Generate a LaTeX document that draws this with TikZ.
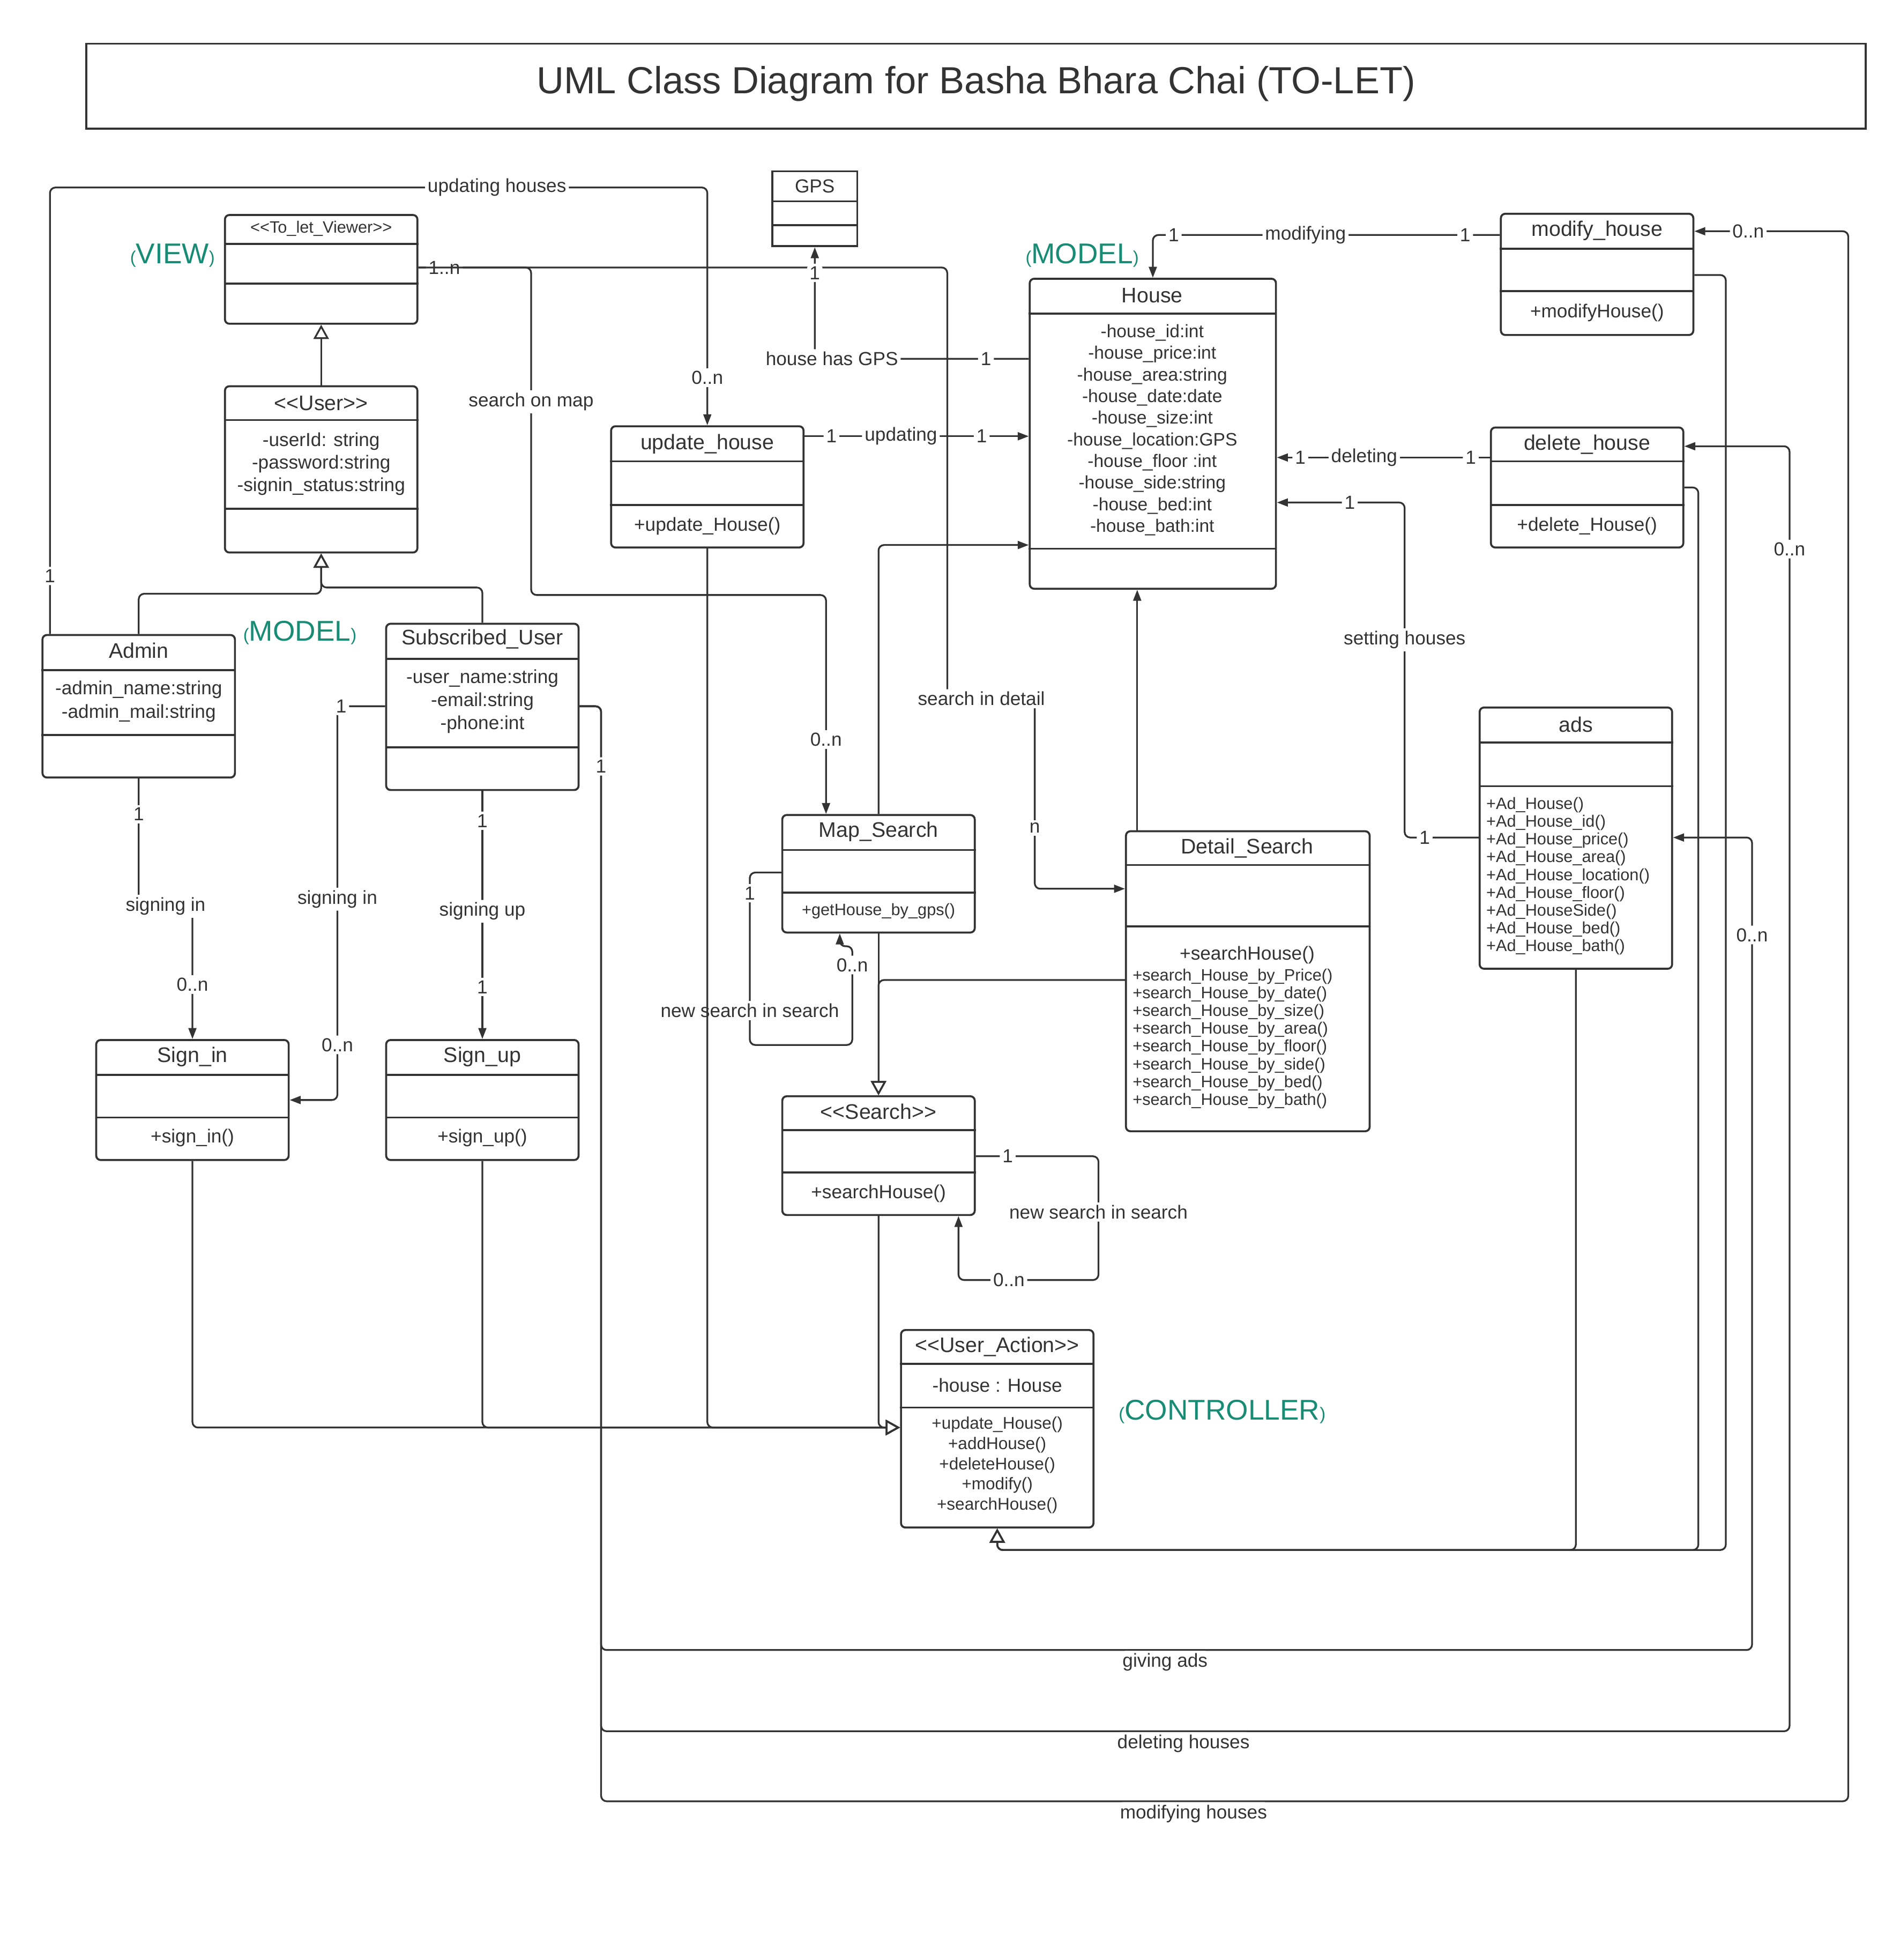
\documentclass[tikz,border=0pt]{standalone}
\usepackage{fontspec}
\setmainfont{Liberation Sans}
\usepackage{tikz}
\usetikzlibrary{arrows.meta, positioning, fit, calc}
\definecolor{ink}{RGB}{51,51,51}
\definecolor{layergreen}{RGB}{24,139,117}
\newcommand{\lgl}{<\kern0pt<}
\newcommand{\rgl}{>\kern0pt>}
\newcommand{\pbr}[1]{{\fontsize{8}{8}\selectfont#1}}

\begin{document}
\begin{tikzpicture}[
  x=0.02cm, y=-0.02cm,
  cls/.style={draw=ink, line width=0.9pt, rounded corners=2pt, inner sep=0pt},
  sqbox/.style={draw=ink, line width=0.9pt, inner sep=0pt},
  divider/.style={draw=ink, line width=0.9pt},
  clshead/.style={font=\fontsize{9.6}{11}\selectfont, text=ink, inner sep=0pt, yshift=-0.8pt},
  clsattr/.style={font=\fontsize{8.6}{10.4}\selectfont, align=center, text=ink, inner sep=0pt, yshift=-0.6pt},
  clsops/.style={font=\fontsize{7.5}{8.1}\selectfont, align=left, text=ink, inner sep=0pt, yshift=-0.5pt},
  lbl/.style={font=\fontsize{8.6}{10}\selectfont, fill=white, inner sep=1.2pt, text=ink},
  layer/.style={font=\fontsize{13}{15}\selectfont, text=layergreen, yshift=-0.8pt},
  conn/.style={draw=ink, line width=0.8pt, rounded corners=2.5pt},
  arrow/.style={conn, -{Triangle[length=5pt, width=3.6pt]}},
  genarrow/.style={conn, -{Triangle[open, length=6.5pt, width=7pt]}},
]
\path[use as bounding box, fill=white] (0,0) rectangle (1520,1568);

% Title
\node[sqbox, fit={(69,35) (1493,103)}] (frame) {};
\node[font=\fontsize{17.2}{20}\selectfont, text=ink, yshift=-1.2pt] (title) at (781,65) {UML Class Diagram for Basha Bhara Chai (TO-LET)};

% Layer tags
\node[layer] (viewtag) at (138,203) {\pbr{(}VIEW\pbr{)}};
\node[layer] (modeltag1) at (240,505) {\pbr{(}MODEL\pbr{)}};
\node[layer] (modeltag2) at (866,203) {\pbr{(}MODEL\pbr{)}};
\node[layer] (ctrltag) at (978,1128) {\pbr{(}CONTROLLER\pbr{)}};

% To_let_Viewer
\node[cls, fit={(180,172) (334,259)}] (viewer) {};
\draw[divider] (viewer.west |- 0,195) -- (viewer.east |- 0,195) (viewer.west |- 0,227) -- (viewer.east |- 0,227);
\node[clsops] (viewer-t) at (257,182) {\lgl To\_let\_Viewer\rgl};

% User
\node[cls, fit={(180,309) (334,442)}] (user) {};
\draw[divider] (user.west |- 0,336) -- (user.east |- 0,336) (user.west |- 0,407) -- (user.east |- 0,407);
\node[clshead] (user-t) at (257,321) {\lgl User\rgl};
\node[clsattr, font=\fontsize{8.6}{10.3}\selectfont] (user-a) at (257,370) {-userId: string\\-password:string\\-signin\_status:string};

% Admin
\node[cls, fit={(34,508) (188,622)}] (admin) {};
\draw[divider] (admin.west |- 0,536) -- (admin.east |- 0,536) (admin.west |- 0,588) -- (admin.east |- 0,588);
\node[clshead] (admin-t) at (111,519) {Admin};
\node[clsattr, font=\fontsize{8.6}{10.8}\selectfont] (admin-a) at (111,560) {-admin\_name:string\\-admin\_mail:string};

% Subscribed_User
\node[cls, fit={(309,499) (463,632)}] (sub) {};
\draw[divider] (sub.west |- 0,527) -- (sub.east |- 0,527) (sub.west |- 0,598) -- (sub.east |- 0,598);
\node[clshead] (sub-t) at (386,510) {Subscribed\_User};
\node[clsattr, font=\fontsize{8.6}{10.5}\selectfont] (sub-a) at (386,560) {-user\_name:string\\-email:string\\-phone:int};

% Sign_in, Sign_up
\node[cls, fit={(77,832) (231,928)}] (signin) {};
\draw[divider] (signin.west |- 0,860) -- (signin.east |- 0,860) (signin.west |- 0,894) -- (signin.east |- 0,894);
\node[clshead] (signin-t) at (154,844) {Sign\_in};
\node[clsattr] (signin-o) at (154,909) {+sign\_in()};

\node[cls, fit={(309,832) (463,928)}] (signup) {};
\draw[divider] (signup.west |- 0,860) -- (signup.east |- 0,860) (signup.west |- 0,894) -- (signup.east |- 0,894);
\node[clshead] (signup-t) at (386,844) {Sign\_up};
\node[clsattr] (signup-o) at (386,909) {+sign\_up()};

% GPS
\node[sqbox, fit={(618,137) (686,197)}] (gps) {};
\draw[divider] (gps.west |- 0,161) -- (gps.east |- 0,161) (gps.west |- 0,180) -- (gps.east |- 0,180);
\node[clsattr] (gps-t) at (652,148) {GPS};

% update_house
\node[cls, fit={(489,341) (643,438)}] (update) {};
\draw[divider] (update.west |- 0,369) -- (update.east |- 0,369) (update.west |- 0,404) -- (update.east |- 0,404);
\node[clshead] (update-t) at (566,354) {update\_house};
\node[clsattr] (update-o) at (566,420) {+update\_House()};

% House
\node[cls, fit={(824,223) (1021,471)}] (house) {};
\draw[divider] (house.west |- 0,251) -- (house.east |- 0,251) (house.west |- 0,439) -- (house.east |- 0,439);
\node[clshead] (house-t) at (922,235) {House};
\node[clsattr, font=\fontsize{8.2}{9.84}\selectfont] (house-a) at (922,343) {-house\_id:int\\-house\_price:int\\-house\_area:string\\-house\_date:date\\-house\_size:int\\-house\_location:GPS\\-house\_floor :int\\-house\_side:string\\-house\_bed:int\\-house\_bath:int};

% modify_house
\node[cls, fit={(1201,171) (1355,268)}] (modify) {};
\draw[divider] (modify.west |- 0,199) -- (modify.east |- 0,199) (modify.west |- 0,233) -- (modify.east |- 0,233);
\node[clshead] (modify-t) at (1278,183) {modify\_house};
\node[clsattr] (modify-o) at (1278,249) {+modifyHouse()};

% delete_house
\node[cls, fit={(1193,342) (1347,438)}] (delete) {};
\draw[divider] (delete.west |- 0,369) -- (delete.east |- 0,369) (delete.west |- 0,404) -- (delete.east |- 0,404);
\node[clshead] (delete-t) at (1270,354) {delete\_house};
\node[clsattr] (delete-o) at (1270,420) {+delete\_House()};

% ads
\node[cls, fit={(1184,566) (1338,775)}] (ads) {};
\draw[divider] (ads.west |- 0,594) -- (ads.east |- 0,594) (ads.west |- 0,629) -- (ads.east |- 0,629);
\node[clshead] (ads-t) at (1261,578) {ads};
\node[clsops, anchor=west] (ads-o) at (1189,700) {+Ad\_House()\\+Ad\_House\_id()\\+Ad\_House\_price()\\+Ad\_House\_area()\\+Ad\_House\_location()\\+Ad\_House\_floor()\\+Ad\_HouseSide()\\+Ad\_House\_bed()\\+Ad\_House\_bath()};

% Map_Search
\node[cls, fit={(626,652) (780,746)}] (map) {};
\draw[divider] (map.west |- 0,680) -- (map.east |- 0,680) (map.west |- 0,714) -- (map.east |- 0,714);
\node[clshead] (map-t) at (703,664) {Map\_Search};
\node[clsops] (map-o) at (703,728) {+getHouse\_by\_gps()};

% Detail_Search
\node[cls, fit={(901,665) (1096,905)}] (detail) {};
\draw[divider] (detail.west |- 0,692) -- (detail.east |- 0,692) (detail.west |- 0,741) -- (detail.east |- 0,741);
\node[clshead] (detail-t) at (998,677) {Detail\_Search};
\node[clsattr] (detail-s) at (998,763) {+searchHouse()};
\node[clsops, anchor=west] (detail-o) at (906,830) {+search\_House\_by\_Price()\\+search\_House\_by\_date()\\+search\_House\_by\_size()\\+search\_House\_by\_area()\\+search\_House\_by\_floor()\\+search\_House\_by\_side()\\+search\_House\_by\_bed()\\+search\_House\_by\_bath()};

% Search
\node[cls, fit={(626,877) (780,972)}] (search) {};
\draw[divider] (search.west |- 0,904) -- (search.east |- 0,904) (search.west |- 0,938) -- (search.east |- 0,938);
\node[clshead] (search-t) at (703,888) {\lgl Search\rgl};
\node[clsattr] (search-o) at (703,954) {+searchHouse()};

% User_Action
\node[cls, fit={(721,1064) (875,1222)}] (action) {};
\draw[divider] (action.west |- 0,1091) -- (action.east |- 0,1091) (action.west |- 0,1126) -- (action.east |- 0,1126);
\node[clshead] (action-t) at (798,1076) {\lgl User\_Action\rgl};
\node[clsattr] (action-a) at (798,1107) {-house : House};
\node[clsattr, font=\fontsize{7.7}{9.2}\selectfont] (action-o) at (798,1171) {+update\_House()\\+addHouse()\\+deleteHouse()\\+modify()\\+searchHouse()};

% Inheritance
\draw[genarrow] (user.north) -- (viewer.south);
\draw[genarrow] (admin.north) |- (user.south |- 0,475) -- (user.south);
\draw[genarrow] (sub.north) |- (user.south |- 0,470) -- (user.south);

% Viewer searches
\draw[arrow] (viewer.east |- 0,214) -- node[lbl, pos=0.23] (m-view) {1..n} (425,214) -- node[lbl, pos=0.41] (l-map) {search on map} (425,476) -- (661,476) -- node[lbl, pos=0.66] (m-map) {0..n} (map.north -| 661,0);
\draw[arrow] (viewer.east |- 0,214) -- (758,214) -- (758,559) -- node[lbl, pos=0.39] (l-det) {search in detail} (828,559) -- node[lbl, pos=0.68] (m-det) {n} (828,711) -- (detail.west |- 0,711);

% Admin updating
\draw[arrow] (admin.north -| 40,0) -- node[lbl, pos=0.13] (m-adm) {1} (40,150) -- node[lbl, pos=0.68] (l-upd) {updating houses} (update.north |- 0,150) -- node[lbl, pos=0.8] (m-upd) {0..n} (update.north);

% House associations
\draw[arrow] (house.west |- 0,287) -- node[lbl, pos=0.2] (m-hg) {1} node[lbl, pos=0.92] (l-gps) {house has GPS} (652,287) -- node[lbl, pos=0.77] (m-gps) {1} (gps.south);
\draw[arrow] (update.east |- 0,349) -- node[lbl, pos=0.12] (m-u1) {1} node[lbl, pos=0.43] (l-updt) {updating} node[lbl, pos=0.79] (m-u2) {1} (house.west |- 0,349);
\draw[arrow] (modify.west |- 0,188) -- node[lbl, pos=0.1] (m-mo1) {1} node[lbl, pos=0.56] (l-mod) {modifying} node[lbl, pos=0.94] (m-mo2) {1} (house.north |- 0,188) -- (house.north);
\draw[arrow] (delete.west |- 0,366) -- node[lbl, pos=0.09] (m-de1) {1} node[lbl, pos=0.59] (l-del) {deleting} node[lbl, pos=0.89] (m-de2) {1} (house.east |- 0,366);
\draw[arrow] (ads.west |- 0,670) -- node[lbl, pos=0.73] (m-ad1) {1} (1124,670) -- node[lbl, pos=0.59] (l-set) {setting houses} (1124,402) -- node[lbl, pos=0.43] (m-ad2) {1} (house.east |- 0,402);
\draw[arrow] (map.north) -- (map.north |- 0,436) -- (house.west |- 0,436);
\draw[arrow] (detail.north -| 910,0) -- (house.south -| 910,0);

% Search hierarchy
\draw[genarrow] (map.south) -- (search.north);
\draw[genarrow] (detail.west |- 0,784) -- (search.north |- 0,784) -- (search.north);

% Self loops
\draw[arrow] (map.west |- 0,698) -- (600,698) -- node[lbl, pos=0.12] (m-ms1) {1} node[lbl, pos=0.8] (l-ms) {new search in search} (600,836) -- (682,836) -- node[lbl, pos=0.81] (m-ms2) {0..n} (682,757) -- (672,757) -- (map.south -| 672,0);
\draw[arrow] (search.east |- 0,925) -- node[lbl, pos=0.26] (m-ss1) {1} (879,925) -- node[lbl, pos=0.45] (l-ss) {new search in search} (879,1024) -- node[lbl, pos=0.64] (m-ss2) {0..n} (767,1024) -- (search.south -| 767,0);

% Controller
\draw[genarrow] (signin.south) |- (action.west |- 0,1142);
\draw[genarrow] (signup.south) |- (action.west |- 0,1142);
\draw[genarrow] (update.south) |- (action.west |- 0,1142);
\draw[genarrow] (search.south) |- (action.west |- 0,1142);
\draw[genarrow] (ads.south) |- (action.south |- 0,1240) -- (action.south);
\draw[genarrow] (delete.east |- 0,390) -- (1359,390) -- (1359,1240) -- (action.south |- 0,1240) -- (action.south);
\draw[genarrow] (modify.east |- 0,220) -- (1381,220) -- (1381,1240) -- (action.south |- 0,1240) -- (action.south);

% Sign in / up
\draw[arrow] (admin.south) -- node[lbl, pos=0.28] (m-si1) {1} (111,725) -- node[lbl] (l-si1) {signing in} (154,725) -- node[lbl, pos=0.59] (m-si2) {0..n} (signin.north);
\draw[arrow] (sub.west |- 0,565) -- node[lbl, pos=0.92] (m-si3) {1} (270,565) -- node[lbl, pos=0.49] (l-si2) {signing in} node[lbl, pos=0.86] (m-si4) {0..n} (270,880) -- (signin.east |- 0,880);
\draw[arrow] (sub.south) -- node[lbl, pos=0.12] (m-su1) {1} node[lbl, pos=0.485] (l-su) {signing up} node[lbl, pos=0.79] (m-su2) {1} (signup.north);

% Subscribed user actions
\draw[arrow] (sub.east |- 0,565) -- (481,565) -- (481,1320) -- node[lbl, below, pos=0.49] (l-ads) {giving ads} (1402,1320) -- node[lbl, pos=0.88] (m-ga) {0..n} (1402,670) -- (ads.east |- 0,670);
\draw[arrow] (sub.east |- 0,565) -- (481,565) -- (481,1385) -- node[lbl, below, pos=0.49] (l-dh) {deleting houses} (1432,1385) -- node[lbl, pos=0.92] (m-dh) {0..n} (1432,357) -- (delete.east |- 0,357);
\draw[arrow] (sub.east |- 0,565) -- (481,565) -- node[lbl, pos=0.055] (m-sa) {1} (481,1441) -- node[lbl, below, pos=0.475] (l-mh) {modifying houses} (1479,1441) -- (1479,185) -- node[lbl, pos=0.65] (m-mh) {0..n} (modify.east |- 0,185);

\end{tikzpicture}
\end{document}
